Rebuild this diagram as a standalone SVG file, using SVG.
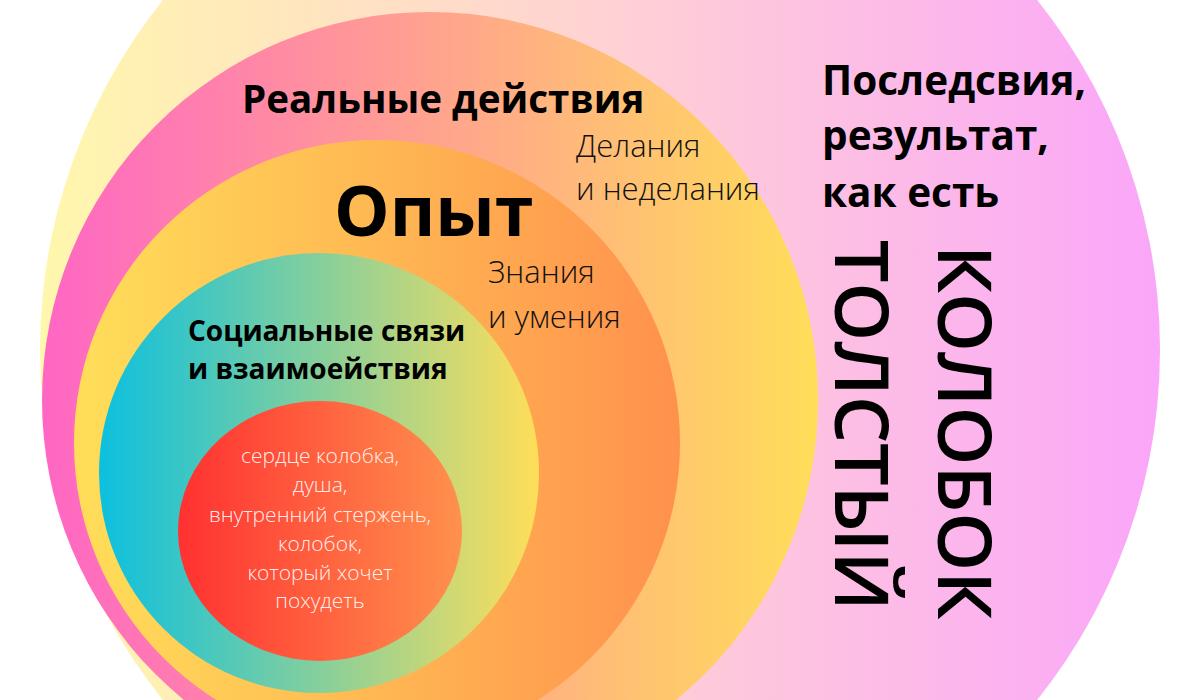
<svg xmlns="http://www.w3.org/2000/svg" width="1200" height="700" viewBox="0 0 1200 700">
  <defs>
    <linearGradient id="gOuter" x1="0" y1="0" x2="1" y2="0">
      <stop offset="0" stop-color="#fff7ad"/>
      <stop offset="0.5" stop-color="#ffd2d3"/>
      <stop offset="1" stop-color="#faa6f9"/>
    </linearGradient>
    <linearGradient id="gPink" x1="0" y1="0" x2="1" y2="0">
      <stop offset="0" stop-color="#ff66c4"/>
      <stop offset="1" stop-color="#ffde59"/>
    </linearGradient>
    <linearGradient id="gOpyt" x1="0" y1="0" x2="1" y2="0">
      <stop offset="0" stop-color="#ffde59"/>
      <stop offset="1" stop-color="#ff914d"/>
    </linearGradient>
    <linearGradient id="gSocial" x1="0" y1="0" x2="1" y2="0">
      <stop offset="0" stop-color="#0cc0df"/>
      <stop offset="1" stop-color="#ffde59"/>
    </linearGradient>
    <linearGradient id="gHeart" x1="0" y1="0" x2="1" y2="0">
      <stop offset="0" stop-color="#ff3131"/>
      <stop offset="1" stop-color="#ff914d"/>
    </linearGradient>
  </defs>
  <style>
    text { font-family: "Open Sans", "Noto Sans", "DejaVu Sans", sans-serif; fill: #000; }
    .bold { font-weight: 700; }
    .light { font-weight: 300; font-size: 31px; fill: #111; }
    .heart { font-weight: 300; font-size: 21px; fill: #fff; fill-opacity: 0.92; text-anchor: middle; }
    .vert { font-weight: 600; font-size: 75px; }
  </style>
  <rect width="1200" height="700" fill="#ffffff"/>

  <g id="outer">
    <circle cx="600" cy="350" r="560" fill="url(#gOuter)"/>
    <text class="bold" font-size="40.5" x="822" y="95">Последсвия,</text>
    <text class="bold" font-size="40.5" x="822" y="150">результат,</text>
    <text class="bold" font-size="40.5" x="822" y="207">как есть</text>
    <text class="vert" transform="translate(938,245) rotate(90)">КОЛОБОК</text>
    <text class="vert" transform="translate(835,240) rotate(90)">ТОЛСТЫЙ</text>
  </g>

  <g id="real-actions">
    <circle cx="430" cy="400" r="388" fill="url(#gPink)"/>
    <text class="bold" font-size="38.6" x="242" y="113">Реальные действия</text>
    <text class="light" x="576" y="157">Делания</text>
    <text class="light" x="576" y="200">и неделания</text>
  </g>

  <g id="experience">
    <circle cx="377" cy="443" r="303" fill="url(#gOpyt)"/>
    <text class="bold" font-size="70" x="334" y="236">Опыт</text>
    <text class="light" x="488" y="283">Знания</text>
    <text class="light" x="488" y="328">и умения</text>
  </g>

  <g id="social">
    <circle cx="319" cy="473" r="220" fill="url(#gSocial)"/>
    <text class="bold" font-size="28" x="188" y="341">Социальные связи</text>
    <text class="bold" font-size="28" x="188" y="379">и взаимоействия</text>
  </g>

  <g id="heart">
    <ellipse cx="320" cy="531" rx="142" ry="130" fill="url(#gHeart)"/>
    <text class="heart" x="320" y="463">сердце колобка,</text>
    <text class="heart" x="320" y="492">душа,</text>
    <text class="heart" x="320" y="522">внутренний стержень,</text>
    <text class="heart" x="320" y="551">колобок,</text>
    <text class="heart" x="320" y="580">который хочет</text>
    <text class="heart" x="320" y="608">похудеть</text>
  </g>

  <g id="connectors"/>
</svg>
